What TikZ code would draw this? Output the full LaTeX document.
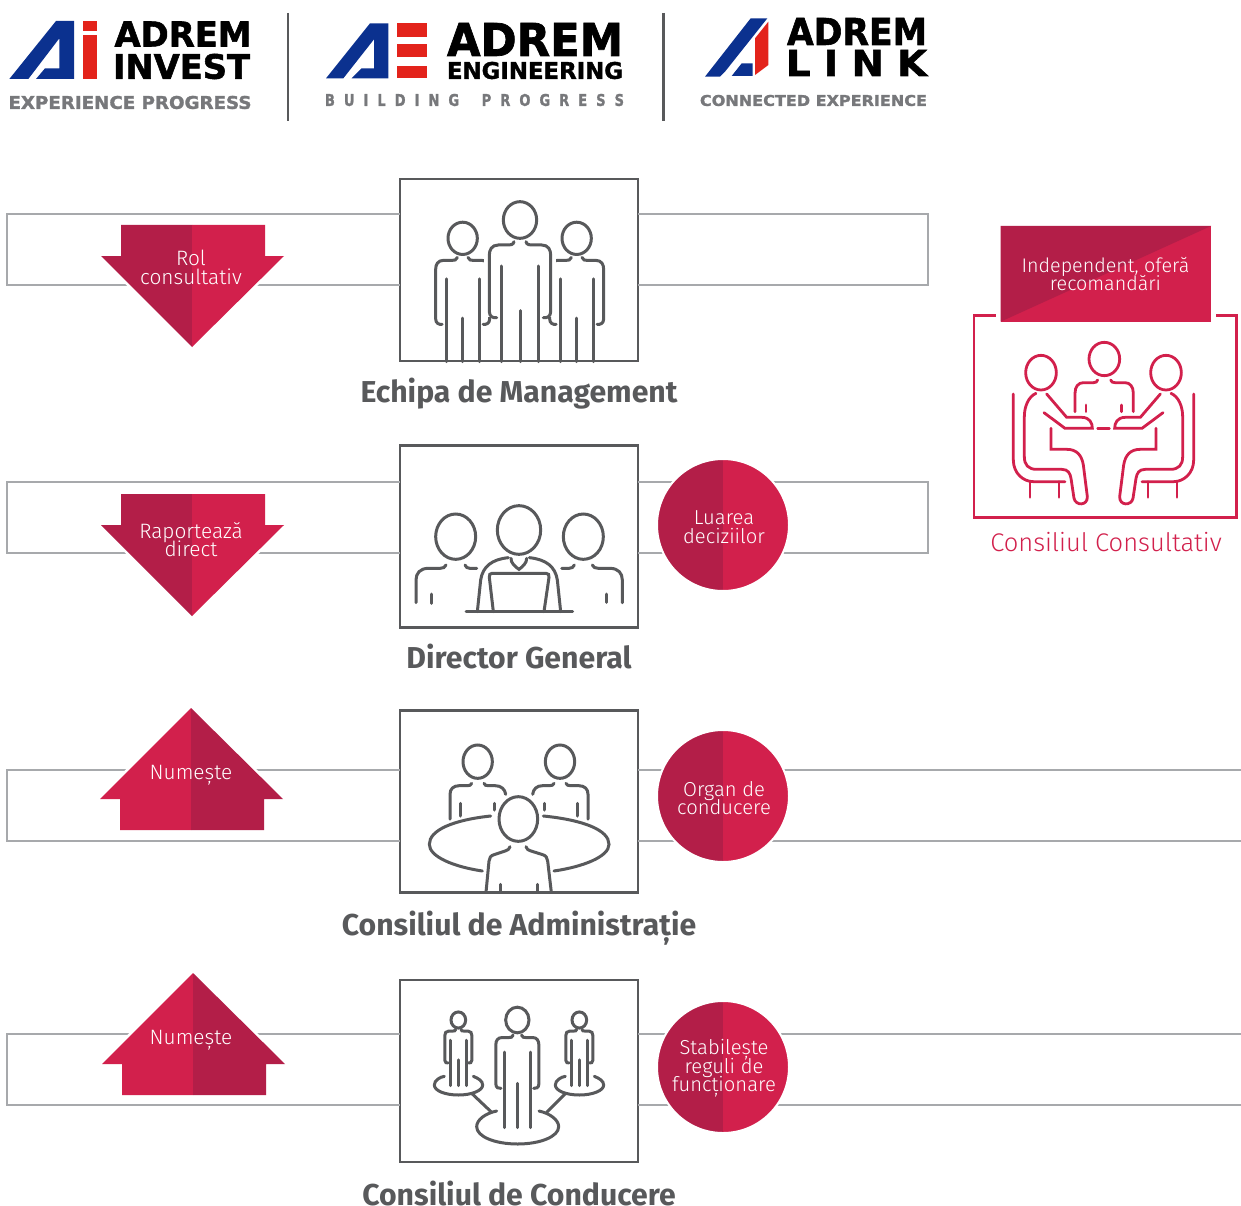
\documentclass[tikz,border=0pt]{standalone}
\usepackage{fontspec}
\setmainfont{Fira Sans}[UprightFont=* Light,BoldFont=* Bold]
\newfontfamily\logofont{DejaVu Sans}[UprightFont=* Bold,FakeBold=1.6]
\usetikzlibrary{positioning}

\definecolor{crimson}{HTML}{D2204C}
\definecolor{crimsondark}{HTML}{B31E48}
\definecolor{iconcolor}{HTML}{58595B}
\definecolor{bandcolor}{HTML}{A7A9AC}
\definecolor{logoblue}{HTML}{0B318F}
\definecolor{logored}{HTML}{E3231B}
\definecolor{logogray}{HTML}{77787B}

\tikzset{
    iconbox/.style={draw=iconcolor,line width=2.6pt,minimum width=238pt,minimum height=182pt,inner sep=0pt,outer sep=0pt},
    iconline/.style={draw=iconcolor,line width=3pt,line cap=round},
    redline/.style={draw=crimson,line width=2.8pt,line cap=round},
    bandline/.style={draw=bandcolor,line width=2.8pt},
    boxtitle/.style={text=iconcolor,anchor=base,font=\fontsize{30.2}{32}\selectfont\bfseries,inner sep=0pt},
    badge/.style={circle,minimum size=132pt,inner sep=0pt,draw=white,line width=2pt,
        path picture={
            \fill[crimsondark] (path picture bounding box.south west) rectangle (path picture bounding box.north);
            \fill[crimson] (path picture bounding box.south) rectangle (path picture bounding box.north east);
        }},
    arrowtext/.style={text=white,align=center,inner sep=0pt,
        font=\fontsize{20.8}{18.5}\selectfont\lineskiplimit-20pt\relax,
        execute at begin node=\rule{0pt}{16pt},
        execute at end node=\rule[-5pt]{0pt}{5pt}},
    badgetext/.style={arrowtext,font=\fontsize{20.2}{18.5}\selectfont\lineskiplimit-20pt\relax},
    logotext/.style={inner sep=0pt,outer sep=0pt,font=\logofont}
}

% x, top, name, text y, text
\newcommand{\arrowdown}[5]{
    \begin{scope}[shift={(#1,#2)}]
        \draw[white,line width=5pt] (-71,0) -- (73,0) -- (73,31) -- (92,31) -- (0,122) -- (-91,31) -- (-71,31) -- cycle;
        \fill[crimsondark] (-71,0) -- (0,0) -- (0,122) -- (-91,31) -- (-71,31) -- cycle;
        \fill[crimson] (0,0) -- (73,0) -- (73,31) -- (92,31) -- (0,122) -- cycle;
        \node[arrowtext] at (-1,#4) (#3) {#5};
    \end{scope}
}
% x, tip, name, text x, text
\newcommand{\arrowup}[5]{
    \begin{scope}[shift={(#1,#2)}]
        \draw[white,line width=5pt] (0,0) -- (92,91) -- (73,91) -- (73,122) -- (-71,122) -- (-71,91) -- (-91,91) -- cycle;
        \fill[crimson] (0,0) -- (0,122) -- (-71,122) -- (-71,91) -- (-91,91) -- cycle;
        \fill[crimsondark] (0,0) -- (92,91) -- (73,91) -- (73,122) -- (0,122) -- cycle;
        \node[arrowtext] at (#4,66.5) (#3) {#5};
    \end{scope}
}
\newcommand{\bandleft}[3]{
    \draw[bandline] (#1.west |- 0,#2) -| (7,#3) -- (#1.west |- 0,#3);
}
\newcommand{\bandright}[3]{
    \draw[bandline] (#1.east |- 0,#2) -| (928,#3) -- (#1.east |- 0,#3);
}
\newcommand{\bandopen}[3]{
    \draw[bandline] (#1.east |- 0,#2) -- (1241,#2);
    \draw[bandline] (#1.east |- 0,#3) -- (1241,#3);
}
% head x, head y, scale, leg end
\newcommand{\standing}[4]{
    \begin{scope}[shift={(#1,#2)},scale=#3]
        \draw[iconline] (0,0) ellipse [x radius=50,y radius=55];
        \draw[iconline] (0,272) -- (0,#4);
        \foreach \side in {1,-1}{
            \begin{scope}[xscale=\side]
                \draw[iconline] (-18,65) .. controls (-20,75) and (-30,75) .. (-35,75) -- (-65,75)
                    .. controls (-85,75) and (-92,90) .. (-92,105) -- (-92,275)
                    .. controls (-92,290) and (-80,295) .. (-70,293);
                \draw[iconline] (-56,138) -- (-56,#4);
            \end{scope}
        }
    \end{scope}
}
\newcommand{\seatedred}{
    \draw[redline] (228,458) ellipse [x radius=46,y radius=52];
    \draw[redline] (145,522) -- (145,720) .. controls (145,760) and (175,785) .. (205,785) -- (300,785);
    \draw[redline] (195,785) -- (195,832);
    \draw[redline] (282,785) -- (282,832);
    \draw[redline] (213,520) .. controls (190,530) and (178,560) .. (178,590) -- (178,710)
        .. controls (178,735) and (190,748) .. (215,748) -- (290,748) .. controls (310,748) and (315,760) .. (318,775)
        -- (327,835) .. controls (332,858) and (368,858) .. (367,830) -- (355,735)
        .. controls (350,705) and (335,688) .. (305,688) -- (258,688) -- (258,625);
    \draw[redline] (245,522) -- (305,592) -- (350,592) .. controls (375,592) and (382,610) .. (382,625)
        -- (300,625) -- (237,578);
}

\begin{document}
\begin{tikzpicture}[x=1pt,y=-1pt]
    \useasboundingbox (0,0) rectangle (1241,1206);
    \fill[white] (0,0) rectangle (1241,1206);

    % logos
    \begin{scope}[scale=1/3]
        \fill[logoblue] (28,237) -- (168,63) -- (222,63) -- (222,237) -- (108,237) -- (135,205) -- (178,205) -- (178,115) -- (85,237) -- cycle;
        \fill[logored] (248,63) rectangle (292,92);
        \fill[logored] (248,105) rectangle (292,237);
        \fill[logoblue] (978,235) -- (1110,70) -- (1165,70) -- (1165,235) -- (1055,235) -- (1085,205) -- (1122,205) -- (1122,118) -- (1030,235) -- cycle;
        \fill[logored] (1190,70) rectangle (1280,110);
        \fill[logored] (1190,133) rectangle (1280,172);
        \fill[logored] (1190,197) rectangle (1280,235);
    \end{scope}
    \begin{scope}[shift={(480,0)},scale=1/3]
        \fill[logoblue] (675,230) -- (812,55) -- (862,55) -- (735,215) -- (720,230) -- cycle;
        \fill[logoblue] (755,228) -- (785,190) -- (818,190) -- (818,228) -- cycle;
        \fill[logored] (825,115) -- (865,65) -- (865,195) -- (825,225) -- cycle;
    \end{scope}
    \node[logotext] at (183,34) (investtop) {\resizebox{137pt}{25pt}{ADREM}};
    \node[logotext] at (181.5,66.5) (investname) {\resizebox{137pt}{25pt}{INVEST}};
    \node[logotext,text=logogray] at (130,102.5) (investline) {\resizebox{243pt}{13pt}{EXPERIENCE PROGRESS}};
    \node[logotext] at (535,39.5) (engtop) {\resizebox{176pt}{33pt}{ADREM}};
    \node[logotext] at (535,70.5) (engname) {\resizebox{176pt}{17pt}{ENGINEERING}};
    \node[logotext,text=logogray] at (474.5,100) (engline) {\resizebox{299pt}{12pt}{B~~U~~I~~L~~D~~I~~N~~G~~~~~P~~R~~O~~G~~R~~E~~S~~S}};
    \node[logotext] at (857,31.5) (linktop) {\resizebox{140pt}{27pt}{ADREM}};
    \node[logotext] at (856.5,63) (linkname) {\resizebox{141pt}{26pt}{L~I~N~K}};
    \node[logotext,text=logogray] at (813.5,100.5) (linkline) {\resizebox{227pt}{11pt}{CONNECTED EXPERIENCE}};
    \coordinate (sepa) at (288,13);
    \coordinate (sepb) at (288,121);
    \coordinate (sepc) at (663.5,13);
    \coordinate (sepd) at (663.5,121);
    \draw[iconcolor,line width=2.4pt] (sepa) -- (sepb);
    \draw[iconcolor,line width=2.4pt] (sepc) -- (sepd);

    % boxes
    \node[iconbox] at (519,270) (management) {};
    \node[iconbox] at (519,536.5) (director) {};
    \node[iconbox] at (519,801.5) (board) {};
    \node[iconbox] at (519,1071) (council) {};
    \node[boxtitle] at (519,402) (managementtitle) {Echipa de Management};
    \node[boxtitle] at (519,668) (directortitle) {Director General};
    \node[boxtitle] at (519,935) (boardtitle) {Consiliul de Administrație};
    \node[boxtitle] at (519,1205) (counciltitle) {Consiliul de Conducere};

    \bandleft{management}{214}{285}
    \bandright{management}{214}{285}
    \bandleft{director}{482}{553}
    \bandright{director}{482}{553}
    \bandleft{board}{770}{841}
    \bandopen{board}{770}{841}
    \bandleft{council}{1034}{1105}
    \bandopen{council}{1034}{1105}

    \arrowdown{192}{225}{rolarrow}{45}{Rol\\consultativ}
    \arrowdown{192}{494}{reportarrow}{48}{Raportează\\direct}
    \arrowup{191}{708}{namesboard}{0}{Numește}
    \arrowup{193}{973}{namescouncil}{-2}{Numește}

    \node[badge] at (723,525) (decisions) {};
    \node[badge] at (723,796) (governing) {};
    \node[badge] at (723,1067) (rules) {};
    \node[badgetext] at (724,529.5) (decisionstext) {Luarea\\deciziilor};
    \node[badgetext] at (724,800.5) (governingtext) {Organ de\\conducere};
    \node[badgetext] at (724,1068.5) (rulestext) {Stabilește\\reguli de\\funcționare};

    % management icon
    \begin{scope}[shift={(390,170)},scale=1/3]
        \standing{218}{205}{.88}{420}
        \standing{560}{205}{.88}{420}
        \fill[white] (282,255) rectangle (310,440);
        \fill[white] (470,255) rectangle (498,440);
        \standing{390}{150}{1}{425}
    \end{scope}

    % director icon
    \begin{scope}[shift={(390,440)},scale=1/3]
        \draw[iconline] (197,290) ellipse [x radius=60,y radius=68];
        \draw[iconline] (387,270) ellipse [x radius=65,y radius=73];
        \draw[iconline] (580,290) ellipse [x radius=60,y radius=68];
        \draw[iconline] (168,375) .. controls (165,382) and (160,385) .. (150,385) -- (115,385) .. controls (90,385) and (78,400) .. (78,420) -- (78,488);
        \draw[iconline] (123,462) -- (123,490);
        \draw[iconline] (225,375) .. controls (228,382) and (232,385) .. (240,385) -- (260,385);
        \draw[iconline] (607,375) .. controls (610,382) and (615,385) .. (625,385) -- (660,385) .. controls (685,385) and (697,400) .. (697,420) -- (697,488);
        \draw[iconline] (650,462) -- (650,487);
        \draw[iconline] (553,375) .. controls (550,382) and (545,385) .. (537,385) -- (515,385);
        \draw[iconline] (355,353) .. controls (305,358) and (278,380) .. (272,420) -- (262,515);
        \draw[iconline] (418,353) .. controls (468,358) and (496,380) .. (502,420) -- (512,515);
        \draw[iconline] (363,355) .. controls (362,368) and (375,380) .. (387,388) .. controls (398,380) and (411,368) .. (410,355);
        \draw[iconline] (310,515) -- (298,412) .. controls (297,404) and (300,400) .. (306,400) -- (468,400) .. controls (475,400) and (478,404) .. (477,412) -- (462,515);
        \draw[iconline] (228,515) -- (548,515);
    \end{scope}

    % board icon
    \begin{scope}[shift={(390,705)},scale=1/3]
        \draw[iconline] (263,170) ellipse [x radius=44,y radius=50];
        \draw[iconline] (510,170) ellipse [x radius=44,y radius=50];
        \draw[iconline] (385,342) ellipse [x radius=58,y radius=67];
        \draw[iconline] (245,235) .. controls (243,241) and (238,242) .. (232,242) -- (208,242) .. controls (190,242) and (180,252) .. (180,268) -- (180,342);
        \draw[iconline] (212,295) -- (212,333);
        \draw[iconline] (282,235) .. controls (284,241) and (288,242) .. (295,242) -- (315,242) .. controls (333,242) and (345,252) .. (347,268);
        \draw[iconline] (313,295) -- (313,315);
        \draw[iconline] (492,235) .. controls (490,241) and (485,242) .. (478,242) -- (458,242) .. controls (440,242) and (430,252) .. (428,268);
        \draw[iconline] (462,295) -- (462,315);
        \draw[iconline] (528,235) .. controls (530,241) and (535,242) .. (542,242) -- (566,242) .. controls (584,242) and (594,252) .. (594,268) -- (594,342);
        \draw[iconline] (562,295) -- (562,333);
        \draw[iconline] (302,333) .. controls (190,345) and (118,375) .. (118,418) .. controls (118,455) and (190,485) .. (277,498);
        \draw[iconline] (460,333) .. controls (580,345) and (657,375) .. (657,418) .. controls (657,455) and (580,485) .. (492,498);
        \draw[iconline] (360,425) .. controls (358,432) and (354,435) .. (348,437) -- (312,449) .. controls (302,452) and (298,458) .. (297,468) -- (288,562);
        \draw[iconline] (331,538) -- (331,562);
        \draw[iconline] (408,425) .. controls (410,432) and (414,435) .. (420,437) -- (458,449) .. controls (468,452) and (472,458) .. (473,468) -- (484,562);
        \draw[iconline] (441,538) -- (441,562);
    \end{scope}

    % council icon
    \begin{scope}[shift={(390,975)},scale=1/3]
        \standing{205}{135}{.44}{448}
        \standing{568}{135}{.44}{448}
        \standing{382}{135}{.7}{461}
        \draw[iconline] (163,304) .. controls (150,306) and (133,316) .. (133,330) .. controls (133,347) and (165,360) .. (205,360) .. controls (245,360) and (278,347) .. (278,330) .. controls (278,318) and (265,310) .. (250,304);
        \draw[iconline] (526,304) .. controls (513,306) and (496,316) .. (496,330) .. controls (496,347) and (528,360) .. (568,360) .. controls (608,360) and (641,347) .. (641,330) .. controls (641,318) and (628,310) .. (613,304);
        \draw[iconline] (320,408) .. controls (285,415) and (260,435) .. (260,455) .. controls (260,485) and (315,507) .. (383,507) .. controls (450,507) and (506,485) .. (506,455) .. controls (506,435) and (480,415) .. (447,408);
        \draw[iconline] (247,357) -- (303,410);
        \draw[iconline] (525,357) -- (470,412);
    \end{scope}

    % advisory board
    \begin{scope}[shift={(965,220)},scale=1/3]
        \draw[redline,line width=2.4pt,line cap=butt] (92,287) -- (27,287) -- (27,892) -- (815,892) -- (815,287) -- (752,287);
        \fill[crimson] (107,18) rectangle (738,305);
        \fill[crimsondark] (107,18) -- (738,18) -- (107,305) -- cycle;
        \draw[redline] (418,417) ellipse [x radius=46,y radius=50];
        \draw[redline] (398,480) .. controls (396,486) and (392,488) .. (385,488) -- (355,488) .. controls (340,488) and (330,500) .. (330,520) -- (330,575);
        \draw[redline] (363,555) -- (363,575);
        \draw[redline] (437,480) .. controls (439,486) and (443,488) .. (450,488) -- (480,488) .. controls (495,488) and (505,500) .. (505,520) -- (505,575);
        \draw[redline] (470,555) -- (470,575);
        \draw[redline] (398,625) -- (433,625);
        \seatedred
        \begin{scope}[shift={(831,0)},xscale=-1]
            \seatedred
        \end{scope}
    \end{scope}
    \node[arrowtext,font=\fontsize{19.7}{18}\selectfont\lineskiplimit-20pt\relax] at (1105.5,276) (advice) {Independent, oferă\\recomandări};
    \node[text=crimson,inner sep=0pt,font=\fontsize{25.5}{30}\selectfont] at (1106,542) (advisorytitle) {Consiliul Consultativ};
\end{tikzpicture}
\end{document}
